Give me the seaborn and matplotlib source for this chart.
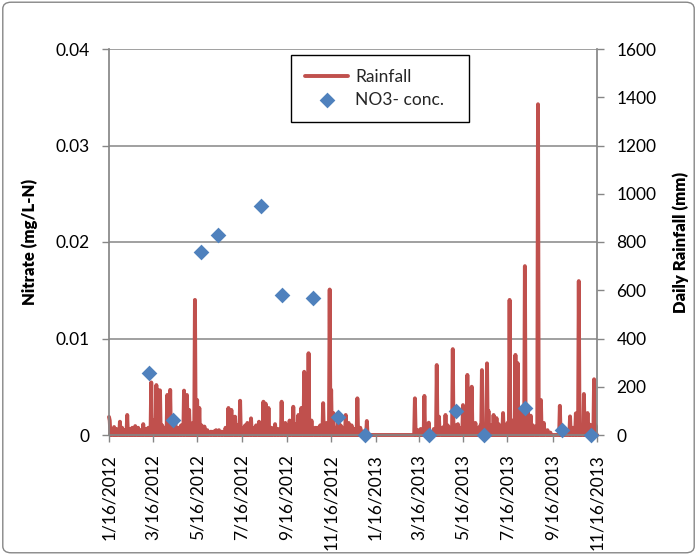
import matplotlib
matplotlib.use("Agg")
import matplotlib.pyplot as plt
import matplotlib.dates as mdates
from matplotlib.ticker import FuncFormatter
from matplotlib.patches import FancyBboxPatch
import pandas as pd
import seaborn as sns

# ---------------- data ----------------
period_start = "2012-01-16"
period_end = "2013-11-16"

# main rain events (mm/day)
rain_dates = [
    "2012-01-16", "2012-01-17", "2012-01-23", "2012-01-31", "2012-02-10", "2012-02-21",
    "2012-02-25", "2012-03-03", "2012-03-14", "2012-03-21", "2012-03-23", "2012-03-26",
    "2012-04-05", "2012-04-09", "2012-04-16", "2012-04-28", "2012-05-02", "2012-05-05",
    "2012-05-13", "2012-05-16", "2012-05-19", "2012-05-26", "2012-06-04", "2012-06-15",
    "2012-06-19", "2012-06-28", "2012-07-02", "2012-07-07", "2012-07-14", "2012-07-24",
    "2012-07-29", "2012-08-09", "2012-08-15", "2012-08-18", "2012-08-22", "2012-08-31",
    "2012-09-09", "2012-09-14", "2012-09-20", "2012-09-25", "2012-10-02", "2012-10-06",
    "2012-10-10", "2012-10-16", "2012-10-20", "2012-10-25", "2012-11-01", "2012-11-05",
    "2012-11-14", "2012-11-16", "2012-11-19", "2012-11-26", "2012-12-06", "2012-12-10",
    "2012-12-14", "2012-12-22", "2012-12-26", "2013-01-04",
    "2013-03-11", "2013-03-24", "2013-03-30", "2013-04-10", "2013-04-13", "2013-04-17",
    "2013-04-22", "2013-05-02", "2013-05-06", "2013-05-16", "2013-05-22", "2013-05-28",
    "2013-06-02", "2013-06-11", "2013-06-18", "2013-06-20", "2013-06-27", "2013-07-01",
    "2013-07-10", "2013-07-19", "2013-07-23", "2013-07-27", "2013-07-30", "2013-08-03",
    "2013-08-09", "2013-08-13", "2013-08-17", "2013-08-27", "2013-08-31", "2013-09-04",
    "2013-09-09", "2013-09-26", "2013-09-30", "2013-10-10", "2013-10-18", "2013-10-22",
    "2013-10-29", "2013-11-03", "2013-11-08", "2013-11-12", "2013-11-14",
]
rain_mm = [
    75, 60, 33, 55, 83, 37,
    30, 45, 218, 207, 187, 185,
    166, 187, 60, 184, 166, 104,
    560, 145, 112, 35, 14, 20,
    14, 112, 104, 76, 142, 50,
    69, 55, 138, 130, 112, 45,
    138, 50, 60, 117, 83, 112,
    262, 339, 60, 30, 40, 132,
    603, 187, 91, 50, 83, 50,
    40, 152, 30, 58,
    152, 162, 51, 290, 76, 30,
    83, 356, 40, 124, 249, 200,
    50, 269, 297, 100, 83, 70,
    91, 560, 60, 332, 298, 100,
    700, 100, 80, 1371, 145, 50,
    20, 121, 20, 77, 90, 638,
    170, 91, 40, 231, 40,
]

# light rain days between the main events (mm/day)
light_rain_dates = [
    "2012-01-19", "2012-01-26", "2012-02-03", "2012-02-06", "2012-02-14", "2012-02-17",
    "2012-02-28", "2012-03-07", "2012-03-10", "2012-03-17", "2012-03-29", "2012-04-01",
    "2012-04-12", "2012-04-20", "2012-04-24", "2012-05-08", "2012-05-10", "2012-05-22",
    "2012-05-30", "2012-06-08", "2012-06-11", "2012-06-24", "2012-07-10", "2012-07-18",
    "2012-07-21", "2012-08-02", "2012-08-05", "2012-08-12", "2012-08-26", "2012-09-04",
    "2012-09-17", "2012-09-28", "2012-10-13", "2012-10-28", "2012-11-08", "2012-11-10",
    "2012-11-22", "2012-11-29", "2012-12-02", "2012-12-18", "2012-12-30",
    "2013-03-15", "2013-03-19", "2013-03-27", "2013-04-06", "2013-04-20", "2013-04-25",
    "2013-04-29", "2013-05-09", "2013-05-12", "2013-05-19", "2013-05-25", "2013-05-31",
    "2013-06-06", "2013-06-09", "2013-06-14", "2013-06-23", "2013-07-04", "2013-07-07",
    "2013-07-13", "2013-07-16", "2013-08-06", "2013-08-11", "2013-08-20", "2013-08-24",
    "2013-09-02", "2013-09-13", "2013-10-02", "2013-10-14", "2013-10-25", "2013-11-01",
    "2013-11-05", "2013-11-10",
]
light_rain_mm = [
    20, 25, 30, 20, 25, 30,
    20, 25, 30, 60, 40, 30,
    45, 30, 40, 30, 50, 40,
    20, 15, 20, 30, 40, 30,
    40, 30, 40, 35, 30, 25,
    40, 45, 40, 30, 40, 50,
    30, 40, 30, 25, 15,
    20, 25, 30, 25, 35, 40,
    30, 45, 30, 50, 45, 40,
    30, 40, 35, 40, 45, 30,
    40, 50, 60, 45, 40, 35,
    30, 10, 15, 30, 40, 35,
    45, 25,
]

no3_dates = [
    "2012-03-11", "2012-04-13", "2012-05-21", "2012-06-14", "2012-08-12",
    "2012-09-09", "2012-10-22", "2012-11-25", "2013-01-01", "2013-03-31",
    "2013-05-06", "2013-06-14", "2013-08-09", "2013-09-29", "2013-11-08",
]
no3_conc = [
    0.00645, 0.00152, 0.0190, 0.0207, 0.0237,
    0.0145, 0.0142, 0.0019, 0.0, 0.0,
    0.0025, 0.0, 0.0028, 0.0005, 0.0,
]

nitrate_ticks = [0, 0.01, 0.02, 0.03, 0.04]
rain_ticks = [0, 200, 400, 600, 800, 1000, 1200, 1400, 1600]
tick_months = [1, 3, 5, 7, 9, 11]

# ---------------- style ----------------
RED = "#C0504D"
BLUE = "#4F81BD"
GRAY = "#868686"

sns.set_theme(style="white")
plt.rcParams["font.family"] = ["Lato", "DejaVu Sans"]

days = pd.date_range(period_start, period_end, freq="D")
rain = pd.Series(0.0, index=days)
rain.loc[pd.to_datetime(light_rain_dates)] = light_rain_mm
rain.loc[pd.to_datetime(rain_dates)] = rain_mm
rain_df = pd.DataFrame({"date": days, "mm": rain.values})
no3_df = pd.DataFrame({"date": pd.to_datetime(no3_dates), "conc": no3_conc})

W, H = 697, 555
fig = plt.figure(figsize=(W / 100, H / 100), dpi=100)
x0, x1, ytop, ybot = 109, 597, 49, 435
ax = fig.add_axes([x0 / W, 1 - ybot / H, (x1 - x0) / W, (ybot - ytop) / H])
ax_r = ax.twinx()
ax.set_zorder(ax_r.get_zorder() + 1)
ax.patch.set_visible(False)

# gridlines (aligned with nitrate ticks) on the rain axis, behind the rain line
for t in nitrate_ticks[1:]:
    ax_r.axhline(t / nitrate_ticks[-1] * rain_ticks[-1], color=GRAY, lw=1.1, zorder=0)

sns.lineplot(data=rain_df, x="date", y="mm", ax=ax_r, color=RED, linewidth=2.8,
             label="Rainfall", legend=False, clip_on=False, zorder=2,
             solid_joinstyle="round", solid_capstyle="round")
sns.scatterplot(data=no3_df, x="date", y="conc", ax=ax, marker="D", s=64,
                color=BLUE, linewidth=0, label="NO3- conc.", legend=False,
                clip_on=False, zorder=3)

ax.set_xlim(pd.Timestamp(period_start), pd.Timestamp(period_end))
ax.set_ylim(nitrate_ticks[0], nitrate_ticks[-1])
ax_r.set_ylim(rain_ticks[0], rain_ticks[-1])
ax.set_yticks(nitrate_ticks)
ax_r.set_yticks(rain_ticks)
ax.yaxis.set_major_formatter(FuncFormatter(lambda v, _: "0" if v == 0 else f"{v:g}"))
ax_r.yaxis.set_major_formatter(FuncFormatter(lambda v, _: f"{int(v)}"))

ax.xaxis.set_major_locator(mdates.MonthLocator(bymonth=tick_months, bymonthday=16))
ax.xaxis.set_major_formatter(FuncFormatter(
    lambda v, _: (lambda d: f"{d.month}/{d.day}/{d.year}")(mdates.num2date(v))))
ax.set_xlabel("")
ax_r.set_xlabel("")

for a in (ax, ax_r):
    for s in a.spines.values():
        s.set_visible(False)
ax.spines["left"].set_visible(True)
ax.spines["left"].set_color(GRAY)
ax.spines["bottom"].set_visible(True)
ax.spines["bottom"].set_color(GRAY)
ax_r.spines["right"].set_visible(True)
ax_r.spines["right"].set_color(GRAY)

ax.tick_params(axis="y", direction="out", length=5, width=1, color=GRAY,
               labelsize=12.5, pad=9, left=True, labelcolor="black")
ax_r.tick_params(axis="y", direction="out", length=5, width=1, color=GRAY,
                 labelsize=12.5, pad=9, right=True, labelcolor="black")
ax.tick_params(axis="x", direction="out", length=5, width=1, color=GRAY,
               labelsize=12.5, pad=9, bottom=True, labelrotation=90, labelcolor="black")
ax_r.tick_params(axis="x", bottom=False, labelbottom=False)
ax.grid(False)
ax_r.grid(False)

ax.set_ylabel("Nitrate (mg/L-N)", fontsize=12, fontweight="heavy", color="black")
ax.yaxis.set_label_coords((38 - x0) / (x1 - x0), 0.5)
ax_r.set_ylabel("Daily Rainfall (mm)", fontsize=12, fontweight="heavy", color="black")
ax_r.yaxis.set_label_coords((672 - x0) / (x1 - x0), 0.5)

h1, l1 = ax_r.get_legend_handles_labels()
h2, l2 = ax.get_legend_handles_labels()
leg = ax.legend(h1 + h2, l1 + l2, loc="upper left",
                bbox_to_anchor=(291 / W, 1 - 108 / H, 178 / W, 53 / H),
                bbox_transform=fig.transFigure, mode="expand", borderaxespad=0,
                fontsize=12.5, handlelength=2.5, handletextpad=0.4, borderpad=0.8,
                labelspacing=0.4, fancybox=False, framealpha=1, edgecolor="black")
leg.get_frame().set_linewidth(1.0)

fig.patches.append(FancyBboxPatch((0.004, 0.004), 0.992, 0.992,
                                  boxstyle="round,pad=0,rounding_size=0.012",
                                  transform=fig.transFigure, fill=False,
                                  edgecolor=GRAY, lw=1.0))

fig.savefig("out.png", dpi=100)
